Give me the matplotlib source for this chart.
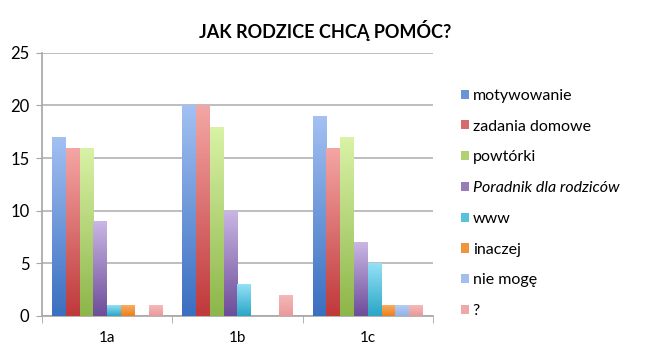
import numpy as np
import matplotlib.pyplot as plt
from matplotlib.colors import LinearSegmentedColormap
from matplotlib.patches import Patch

plt.rcParams['font.family'] = ['Lato', 'DejaVu Sans']

groups = ['1a', '1b', '1c']
series = ['motywowanie', 'zadania domowe', 'powtórki', 'Poradnik dla rodziców',
          'www', 'inaczej', 'nie mogę', '?']
values = [
    [17, 20, 19],   # motywowanie
    [16, 20, 16],   # zadania domowe
    [16, 18, 17],   # powtórki
    [9, 10, 7],     # Poradnik dla rodziców
    [1, 3, 5],      # www
    [1, 0, 1],      # inaczej
    [0, 0, 1],      # nie mogę
    [1, 2, 1],      # ?
]
# (bottom colour, top colour) for the gradient fill
colors = [
    ('#3b6fc0', '#a2c0f2'),
    ('#c0393b', '#f4a6a4'),
    ('#8db64a', '#d9f2a6'),
    ('#6e4d99', '#c8b6e4'),
    ('#2aa6c6', '#93e1f6'),
    ('#e9801f', '#f9ad62'),
    ('#92b1e8', '#b7cdf4'),
    ('#e89a9a', '#f6b9b9'),
]

fig = plt.figure(figsize=(6.48, 3.57), dpi=100)
ax = fig.add_axes([0.065, 0.115, 0.603, 0.737])

x = np.arange(len(groups))
w = 0.106
grad = np.linspace(0, 1, 64).reshape(-1, 1)
for i, (name, vals) in enumerate(zip(series, values)):
    cmap = LinearSegmentedColormap.from_list(name, colors[i])
    bars = ax.bar(x + (i - 3.5) * w, vals, w, color='none', edgecolor='none', zorder=3)
    for b in bars:
        h = b.get_height()
        if h <= 0:
            continue
        x0 = b.get_x()
        im = ax.imshow(grad, extent=[x0, x0 + w, 0, h], origin='lower',
                       aspect='auto', cmap=cmap, zorder=3)
        im.set_clip_path(b)

ax.set_xlim(-0.5, 2.5)
ax.set_ylim(0, 25)
ax.set_yticks(range(0, 26, 5))
ax.set_xticks(x)
ax.set_xticklabels(groups)
ax.set_xticks([-0.5, 0.5, 1.5, 2.5], minor=True)
ax.tick_params(axis='x', which='major', length=0, pad=11, labelsize=11)
ax.tick_params(axis='x', which='minor', length=5, color='#a6a6a6')
ax.tick_params(axis='y', length=4, color='#a6a6a6', labelsize=12, pad=5)
ax.yaxis.grid(True, color='#b3b3b3', linewidth=1.2, zorder=0)
ax.set_axisbelow(True)
for s in ['top', 'right']:
    ax.spines[s].set_visible(False)
for s in ['left', 'bottom']:
    ax.spines[s].set_color('#a6a6a6')
    ax.spines[s].set_linewidth(1.2)

fig.text(0.502, 0.915, 'JAK RODZICE CHCĄ POMÓC?', ha='center', va='center',
         fontsize=13, fontweight='bold')

handles = [Patch(facecolor=LinearSegmentedColormap.from_list('h', c)(0.45),
                 edgecolor='none') for c in colors]
leg = fig.legend(handles, series, loc='center left', bbox_to_anchor=(0.69, 0.43),
                 frameon=False, fontsize=11.5, handlelength=0.5, handleheight=0.5,
                 handletextpad=0.2, labelspacing=1.05)
leg.get_texts()[3].set_fontstyle('italic')

fig.savefig('out.png', dpi=100)
